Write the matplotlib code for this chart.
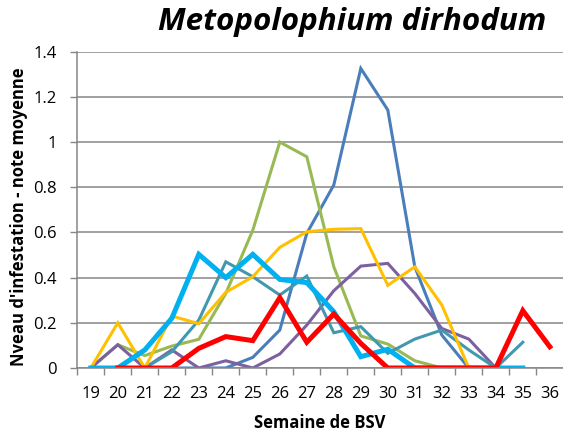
import matplotlib
matplotlib.use("Agg")
import matplotlib.pyplot as plt

weeks = list(range(19, 37))

blue_weeks = list(range(20, 34))
blue_vals = [0, 0, 0, 0, 0, 0.047, 0.168, 0.596, 0.81, 1.326, 1.142, 0.448, 0.146, 0]

green_weeks = list(range(19, 33))
green_vals = [0, 0.103, 0.055, 0.097, 0.127, 0.33, 0.61, 1.0, 0.935, 0.448, 0.142, 0.106, 0.032, 0]

purple_weeks = list(range(19, 35))
purple_vals = [0, 0.103, 0, 0.08, 0, 0.032, 0, 0.062, 0.19, 0.342, 0.451, 0.463, 0.33, 0.175, 0.128, 0]

teal_weeks = list(range(21, 36))
teal_vals = [0, 0.072, 0.212, 0.47, 0.404, 0.323, 0.407, 0.156, 0.183, 0.065, 0.128, 0.168, 0.08, 0, 0.114]

yellow_weeks = list(range(19, 34))
yellow_vals = [0, 0.2, 0, 0.23, 0.196, 0.335, 0.404, 0.534, 0.603, 0.614, 0.617, 0.366, 0.448, 0.279, 0]

cyan_weeks = list(range(19, 36))
cyan_vals = [0, 0, 0.08, 0.22, 0.503, 0.40, 0.503, 0.392, 0.378, 0.249, 0.05, 0.083, 0, 0, 0, 0, 0]

red_weeks = list(range(20, 37))
red_vals = [0, 0, 0, 0.087, 0.139, 0.121, 0.311, 0.114, 0.239, 0.109, 0, 0, 0, 0, 0, 0.254, 0.094]

y_ticks = [0, 0.2, 0.4, 0.6, 0.8, 1, 1.2, 1.4]
y_tick_labels = ["0", "0.2", "0.4", "0.6", "0.8", "1", "1.2", "1.4"]

title = "Metopolophium dirhodum"
xlabel = "Semaine de BSV"
ylabel = "Nveau d'infestation - note moyenne"

plt.rcParams['font.family'] = ['Open Sans', 'DejaVu Sans']

W, H = 563, 436
fig = plt.figure(figsize=(W / 100, H / 100), dpi=100)
ax = fig.add_axes([77.3 / W, (H - 368) / H, (563.3 - 77.3) / W, (368 - 51.7) / H])

grid_c = "#868686"
ax.set_xlim(18.5, 36.5)
ax.set_ylim(0, 1.4)
ax.set_yticks(y_ticks)
ax.set_yticklabels(y_tick_labels)
ax.set_xticks(weeks)
ax.set_xticklabels([str(w) for w in weeks])
ax.set_xticks([w + 0.5 for w in range(18, 36)], minor=True)
ax.tick_params(axis='x', which='major', length=0, pad=13, labelsize=12, colors="black")
ax.tick_params(axis='x', which='minor', length=5, width=1, color=grid_c)
ax.tick_params(axis='y', length=5, width=1, color=grid_c, pad=10, labelsize=12, labelcolor="black")
ax.yaxis.grid(True, color=grid_c, linewidth=1.1)
ax.set_axisbelow(True)
for s in ['top', 'right']:
    ax.spines[s].set_visible(False)
for s in ['left', 'bottom']:
    ax.spines[s].set_color(grid_c)
    ax.spines[s].set_linewidth(1.1)

lw = 2.2
ax.plot(blue_weeks, blue_vals, color="#4A7EBB", lw=lw, solid_joinstyle='miter')
ax.plot(green_weeks, green_vals, color="#98B954", lw=lw, solid_joinstyle='miter')
ax.plot(purple_weeks, purple_vals, color="#7D60A0", lw=lw, solid_joinstyle='miter')
ax.plot(teal_weeks, teal_vals, color="#4198AF", lw=lw, solid_joinstyle='miter')
ax.plot(yellow_weeks, yellow_vals, color="#FFC000", lw=lw, solid_joinstyle='miter')
ax.plot(cyan_weeks, cyan_vals, color="#00B0F0", lw=3.6, solid_joinstyle='miter')
ax.plot(red_weeks, red_vals, color="#FF0000", lw=3.6, solid_joinstyle='miter')

fig.text(546 / W, 1 - 22 / H, title, ha='right', va='center', fontsize=22.6,
         fontweight='bold', fontstyle='italic')
fig.text(320 / W, 1 - 423 / H, xlabel, ha='center', va='center', fontsize=12, fontweight='bold')
fig.text(19 / W, 1 - 217 / H, ylabel, ha='center', va='center', rotation=90,
         fontsize=12, fontweight='bold')

fig.savefig("out.png", dpi=100)
